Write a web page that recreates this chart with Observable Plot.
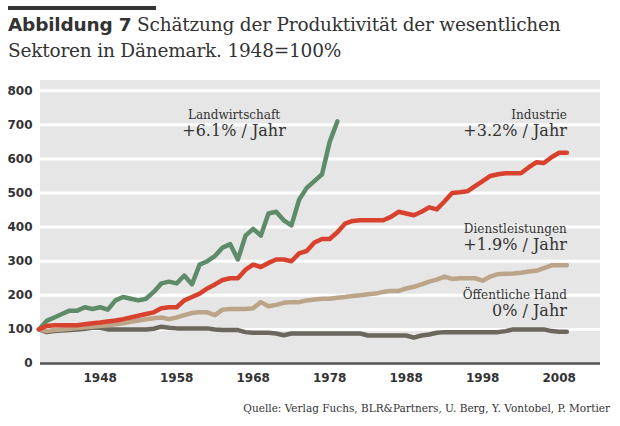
<!DOCTYPE html>
<html><head><meta charset="utf-8">
<script src="https://cdn.jsdelivr.net/npm/d3@7"></script>
<script src="https://cdn.jsdelivr.net/npm/@observablehq/plot@0.6"></script>
<style>
body{margin:0;background:#fff;font-family:"DejaVu Serif",serif;}
#wrap{width:620px;height:426px;overflow:hidden;}
#bar{margin:6px 0 0 8px;width:148px;height:4px;background:#333;}
#title{margin:2px 0 0 8px;width:610px;height:63px;font-size:18.5px;line-height:26px;color:#333;letter-spacing:-0.2px;}
#title b{font-family:"DejaVu Sans",sans-serif;font-weight:bold;}
#chart{height:318px;}
#chart svg{display:block;}
#cap{text-align:right;padding-right:10px;margin-top:9px;font-size:10.5px;color:#333;}
</style></head><body>
<div id="wrap">
<div id="bar"></div>
<div id="title"><b>Abbildung 7</b> Schätzung der Produktivität der wesentlichen Sektoren in Dänemark. 1948=100%</div>
<div id="chart"></div>
<div id="cap">Quelle: Verlag Fuchs, BLR&amp;Partners, U. Berg, Y. Vontobel, P. Mortier</div>
</div>
<script>
const yTicks = [0,100,200,300,400,500,600,700,800];
const xTicks = [1948,1958,1968,1978,1988,1998,2008];
const landYears = d3.range(1940, 1980);
const landwirtschaft = [100,125,135,145,155,155,165,160,165,158,185,195,190,185,190,210,235,240,235,258,232,290,300,315,340,350,305,375,395,375,440,445,420,405,480,515,535,555,650,710];
const years = d3.range(1940, 2010);
const industrie = [100,110,112,112,112,112,115,118,120,123,126,130,135,140,145,150,162,165,165,185,195,205,220,232,245,250,250,275,290,283,295,305,305,300,323,330,355,365,365,385,410,418,420,420,420,420,430,445,440,435,445,458,452,475,500,502,505,520,535,550,555,558,558,558,575,590,588,605,618,618];
const dienst = [100,95,98,100,102,104,106,108,110,112,115,118,122,126,130,133,135,130,135,142,148,150,150,142,158,160,160,160,162,180,168,172,178,180,180,185,188,190,190,193,195,198,200,203,205,210,213,213,220,225,232,240,246,255,248,250,250,250,243,255,262,263,264,266,270,272,280,288,288,288];
const oeffentlich = [100,92,95,97,98,100,102,105,105,100,100,100,100,100,100,102,108,105,103,103,103,103,103,100,98,98,98,92,90,90,90,88,83,88,88,88,88,88,88,88,88,88,88,82,82,82,82,82,82,76,82,85,90,92,92,92,92,92,92,92,92,95,100,100,100,100,100,95,93,93];
const labels = [
 {x:1965.5,y:728,t:"Landwirtschaft",s:12,a:"middle"},
 {x:1965.5,y:683,t:"+6.1% / Jahr",s:16,a:"middle"},
 {x:2009,y:728,t:"Industrie",s:12,a:"end"},
 {x:2009,y:683,t:"+3.2% / Jahr",s:16,a:"end"},
 {x:2009,y:393,t:"Dienstleistungen",s:12,a:"end"},
 {x:2009,y:348,t:"+1.9% / Jahr",s:16,a:"end"},
 {x:2009,y:199,t:"Öffentliche Hand",s:12,a:"end"},
 {x:2009,y:154,t:"0% / Jahr",s:16,a:"end"}
];
const series = [
 {name:"Landwirtschaft",yrs:landYears,v:landwirtschaft,c:"#5e8c68"},
 {name:"Öffentliche Hand",yrs:years,v:oeffentlich,c:"#6b675d"},
 {name:"Dienstleistungen",yrs:years,v:dienst,c:"#bba487"},
 {name:"Industrie",yrs:years,v:industrie,c:"#d8412d"}
];
const data = series.flatMap(s => s.v.map((v,i)=>({year:s.yrs[i],value:v,name:s.name,c:s.c})));
const chart = Plot.plot({
  width:620, height:318, marginLeft:40, marginRight:20, marginTop:5, marginBottom:30,
  x:{domain:[1940.2,2013.4], label:null},
  y:{domain:[0,830], label:null},
  style:{fontFamily:"DejaVu Sans, sans-serif", fontSize:"12px", color:"#333", background:"#fff"},
  marks:[
    Plot.rect([0],{x1:1940.2,x2:2013.4,y1:0,y2:830,fill:"#e6e6e6"}),
    Plot.ruleY(yTicks.filter(d=>d>0),{stroke:"#fff",strokeWidth:3}),
    Plot.ruleY([0],{stroke:"#555",strokeWidth:2.5}),
    Plot.axisX({ticks:xTicks, tickFormat:d=>String(d), tickSize:0, tickPadding:10, fontWeight:"bold"}),
    Plot.axisY({ticks:yTicks, tickSize:0, tickPadding:8, fontWeight:"bold"}),
    Plot.line(data,{x:"year",y:"value",z:"name",stroke:d=>d.c,strokeWidth:4.5,strokeLinejoin:"round"}),
    Plot.text(labels,{x:"x",y:"y",text:"t",fontSize:d=>d.s,textAnchor:"end",fill:"#333",fontFamily:"DejaVu Serif, serif"})
  ]
});
// centre the Landwirtschaft labels
chart.querySelectorAll("text").forEach(t=>{ if(/Landwirtschaft|6\.1%/.test(t.textContent)) t.setAttribute("text-anchor","middle"); });
document.getElementById("chart").appendChild(chart);
</script>
</body></html>
